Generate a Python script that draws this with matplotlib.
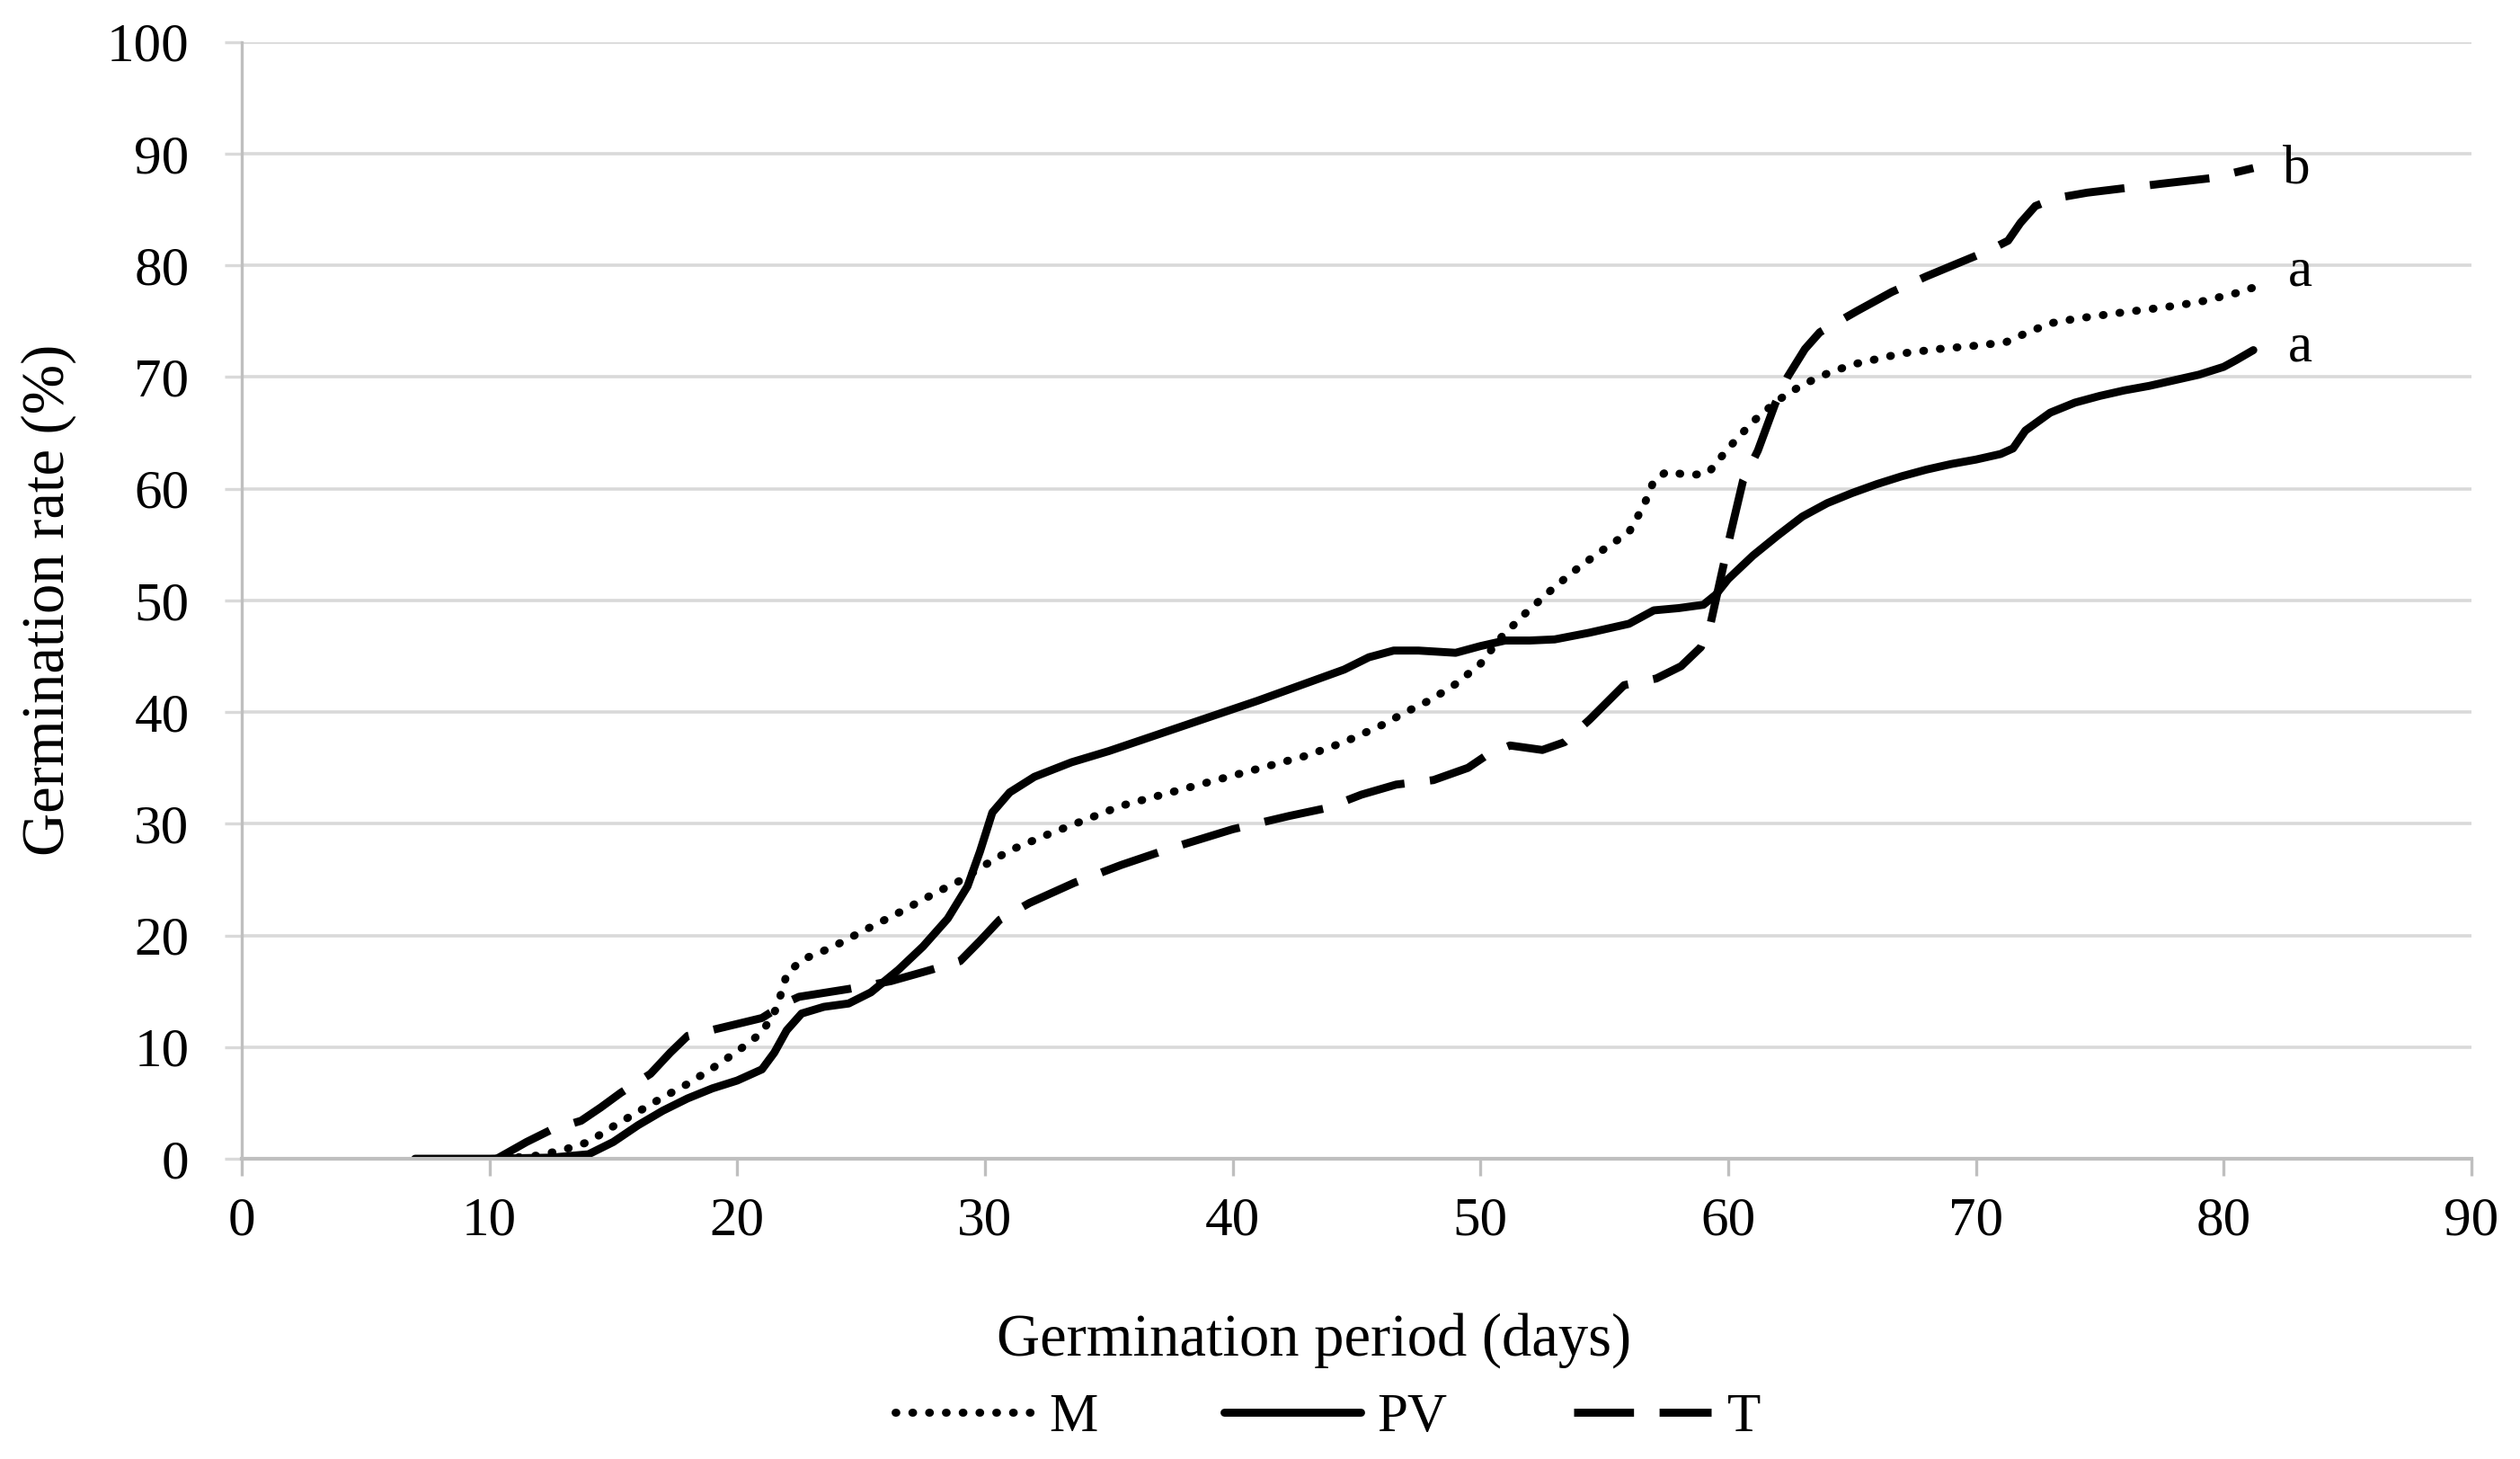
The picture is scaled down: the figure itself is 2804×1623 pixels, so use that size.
import matplotlib
matplotlib.use("Agg")
import matplotlib.pyplot as plt

# Cumulative germination curves.
# Each treatment has its own day grid (points were read at visible features).

M_DAYS = [10.5, 12, 13, 14, 15, 16, 17, 18, 19, 20, 21, 21.6, 22, 22.6, 23.8,
          25, 26.5, 28, 29, 30, 31, 32.5, 34, 35.5, 37, 38.5, 40, 41.5, 43,
          44.5, 46, 47, 48, 49, 50, 50.8, 51.8, 53, 54, 55, 56, 56.6, 57, 57.5,
          58.5, 59.2, 60, 61, 62, 63, 64, 65, 66, 67, 68.5, 70, 71.2, 72, 73,
          74, 75, 76, 77.5, 79, 80.5, 81.2]
M_RATE = [0, 0.3, 0.8, 1.5, 2.9, 4.2, 5.5, 6.7, 8.1, 9.6, 11.3, 13.5, 16.5,
          17.8, 18.9, 20.3, 22.0, 23.8, 24.9, 26.3, 27.6, 29.0, 30.3, 31.6,
          32.5, 33.4, 34.3, 35.2, 36.1, 37.3, 38.8, 40.0, 41.1, 42.5, 44.3,
          46.6, 48.8, 51.2, 53.0, 54.6, 56.1, 58.5, 60.7, 61.5, 61.2, 61.4,
          63.6, 66.0, 67.9, 69.3, 70.3, 71.1, 71.6, 72.1, 72.5, 72.8, 73.1,
          73.9, 74.8, 75.2, 75.5, 75.8, 76.2, 76.7, 77.5, 78.0]

PV_DAYS = [7, 10, 12.5, 14, 15, 16, 17, 18, 19, 20, 21, 21.5, 22, 22.6, 23.5,
           24.5, 25.4, 26.5, 27.5, 28.5, 29.3, 29.8, 30.3, 31, 32, 33.5, 35,
           37, 39, 41, 43, 44.5, 45.5, 46.5, 47.5, 49, 50, 51, 52, 53, 54.4,
           56, 57, 58, 59, 59.5, 60, 61, 62, 63, 64, 65, 66, 67, 68, 69, 70,
           71, 71.5, 72, 73, 74, 75, 76, 77, 78, 79, 80, 80.5, 81.2]
PV_RATE = [0, 0, 0.1, 0.4, 1.5, 3.0, 4.3, 5.4, 6.3, 7.0, 8.0, 9.5, 11.5, 13.0,
           13.6, 13.9, 14.9, 16.9, 19.0, 21.5, 24.4, 27.5, 31.0, 32.8, 34.2,
           35.5, 36.5, 38.0, 39.5, 41.0, 42.6, 43.8, 44.9, 45.5, 45.5, 45.3,
           45.9, 46.4, 46.4, 46.5, 47.1, 47.9, 49.1, 49.3, 49.6, 50.5, 51.9,
           54.0, 55.8, 57.5, 58.7, 59.6, 60.4, 61.1, 61.7, 62.2, 62.6, 63.1,
           63.6, 65.2, 66.8, 67.7, 68.3, 68.8, 69.2, 69.7, 70.2, 70.9, 71.5,
           72.4]

T_DAYS = [10.3, 11.5, 12.5, 13.7, 14.5, 15.3, 16.5, 17.3, 18, 19.5, 21, 22,
          22.5, 24.5, 26.2, 27.8, 29, 29.8, 30.6, 31.8, 33.6, 35.5, 37.5, 40,
          42.3, 43.8, 45.2, 46.6, 48.1, 49.5, 50.3, 51.2, 52.5, 53.4, 54.4,
          55.8, 57.1, 58.1, 58.9, 59.3, 59.7, 60.1, 60.6, 61.2, 61.9, 62.4,
          63.1, 63.7, 65.2, 66.6, 68, 69.3, 70.5, 71.3, 71.8, 72.4, 73.2, 74.5,
          76, 77.5, 79.5, 81.2]
T_RATE = [0, 1.5, 2.6, 3.4, 4.6, 5.9, 7.6, 9.5, 11.0, 11.8, 12.6, 14.0, 14.5,
          15.2, 15.9, 16.9, 17.7, 19.5, 21.4, 22.9, 24.7, 26.3, 27.8, 29.5,
          30.7, 31.4, 32.6, 33.5, 33.9, 35.0, 36.2, 37.0, 36.6, 37.3, 39.3,
          42.4, 43.0, 44.1, 45.8, 48.0, 52.0, 56.0, 60.7, 63.4, 67.6, 70.0,
          72.5, 74.0, 75.9, 77.6, 79.0, 80.2, 81.3, 82.2, 83.8, 85.3, 86.0,
          86.5, 86.9, 87.3, 87.8, 88.7]

# significance letters at the end of each curve
LETTERS = ["b", "a", "a"]
LETTER_Y = [87.4, 78.2, 71.4]
LETTER_X = [82.4, 82.6, 82.6]

X_TICKS = list(range(0, 91, 10))
Y_TICKS = list(range(0, 101, 10))

plt.rcParams["font.family"] = ["Liberation Serif", "DejaVu Serif"]
FS = 22
LABEL_FS = 24
GRID = "#d9d9d9"
SPINE = "#bfbfbf"

fig = plt.figure(figsize=(14.02, 8.115), dpi=200)
ax = fig.add_axes([0.0959, 0.2058, 0.9807 - 0.0959, 0.9713 - 0.2058])

lw = 3.2
ax.plot(M_DAYS, M_RATE, color="black", lw=lw, linestyle=(0, (0.1, 2.0)),
        dash_capstyle="round", label="M")
ax.plot(PV_DAYS, PV_RATE, color="black", lw=lw, solid_capstyle="round",
        solid_joinstyle="round", label="PV")
ax.plot(T_DAYS, T_RATE, color="black", lw=lw, linestyle=(0, (7.5, 3.2)),
        dash_capstyle="butt", label="T")

for letter, lx, ly in zip(LETTERS, LETTER_X, LETTER_Y):
    ax.text(lx, ly, letter, fontsize=FS, ha="left", va="baseline")

ax.set_xlim(0, 90)
ax.set_ylim(0, 100)
ax.set_xticks(X_TICKS)
ax.set_yticks(Y_TICKS)
ax.tick_params(axis="x", direction="out", length=7, width=1.2, color=SPINE,
               labelsize=FS, pad=8)
ax.tick_params(axis="y", direction="out", length=7, width=1.2, color=GRID,
               labelsize=FS, pad=14)

ax.yaxis.grid(True, color=GRID, lw=1.3)
ax.set_axisbelow(True)
for side in ["top", "right"]:
    ax.spines[side].set_visible(False)
ax.spines["left"].set_color(SPINE)
ax.spines["left"].set_linewidth(1.2)
ax.spines["bottom"].set_color(SPINE)
ax.spines["bottom"].set_linewidth(1.5)

ax.set_xlabel("Germination period (days)", fontsize=LABEL_FS)
ax.xaxis.set_label_coords(0.481, -0.138)
ax.set_ylabel("Germination rate (%)", fontsize=LABEL_FS)
ax.yaxis.set_label_coords(-0.074, 0.5)

fig.legend(loc="center", bbox_to_anchor=(0.527, 0.028), ncol=3, frameon=False,
           fontsize=FS, handlelength=2.5, handletextpad=0.3, columnspacing=2.3)

fig.savefig("out.png", dpi=200, facecolor="white")
